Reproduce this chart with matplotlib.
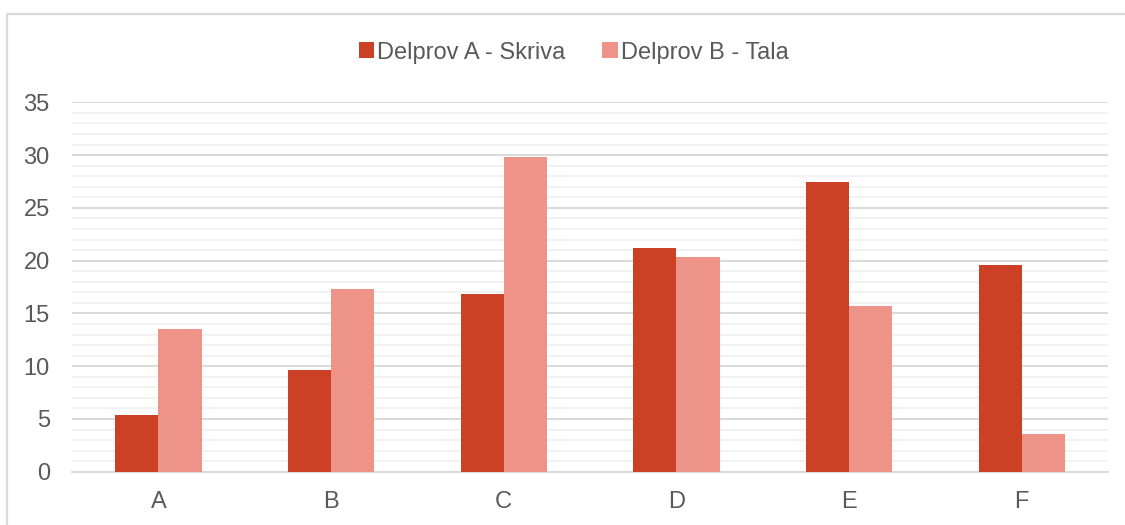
import numpy as np
import matplotlib.pyplot as plt
from matplotlib.patches import Rectangle
from matplotlib.ticker import MultipleLocator

# --- Data ---
categories = ["A", "B", "C", "D", "E", "F"]
delprov_a = [5.4, 9.6, 16.8, 21.2, 27.5, 19.6]   # Skriva
delprov_b = [13.5, 17.3, 29.8, 20.3, 15.7, 3.6]  # Tala
series_names = ["Delprov A - Skriva", "Delprov B - Tala"]

# --- Style ---
COLOR_A = "#CC4125"
COLOR_B = "#EE9388"
TEXT = "#595959"
plt.rcParams['font.family'] = ['Liberation Sans', 'DejaVu Sans']

fig = plt.figure(figsize=(11.25, 5.25), dpi=100)
ax = fig.add_axes([0.064, 0.1015, 0.921, 0.7035])

x = np.arange(len(categories))
width = 0.25
ax.bar(x - width / 2, delprov_a, width, color=COLOR_A, label=series_names[0], zorder=3)
ax.bar(x + width / 2, delprov_b, width, color=COLOR_B, label=series_names[1], zorder=3)

ax.set_xlim(-0.5, len(categories) - 0.5)
ax.set_ylim(0, 35)
ax.set_xticks(x)
ax.set_xticklabels(categories)
ax.yaxis.set_major_locator(MultipleLocator(5))
ax.yaxis.set_minor_locator(MultipleLocator(1))

# gridlines: major darker, minor light
ax.grid(axis="y", which="major", color="#D9D9D9", linewidth=1.4, zorder=0)
ax.grid(axis="y", which="minor", color="#F2F2F2", linewidth=1.4, zorder=0)

for side in ["top", "right", "left"]:
    ax.spines[side].set_visible(False)
ax.spines["bottom"].set_color("#D9D9D9")
ax.spines["bottom"].set_linewidth(1.4)

ax.tick_params(axis="both", which="both", length=0, labelsize=17, labelcolor=TEXT)
ax.tick_params(axis="y", pad=16)
ax.tick_params(axis="x", pad=14)

fig.legend(loc="center", bbox_to_anchor=(0.51, 0.9), ncol=2, frameon=False,
           fontsize=17, labelcolor=TEXT, handlelength=0.65, handleheight=0.65,
           handletextpad=0.15, columnspacing=1.55)

# outer chart border (runs off the right and bottom edges)
fig.patches.append(Rectangle((7 / 1125, -0.1), 1.2, 1.1 - 14 / 525,
                             transform=fig.transFigure, fill=False,
                             edgecolor="#D9D9D9", linewidth=1.6))

fig.savefig("out.png", dpi=100)
